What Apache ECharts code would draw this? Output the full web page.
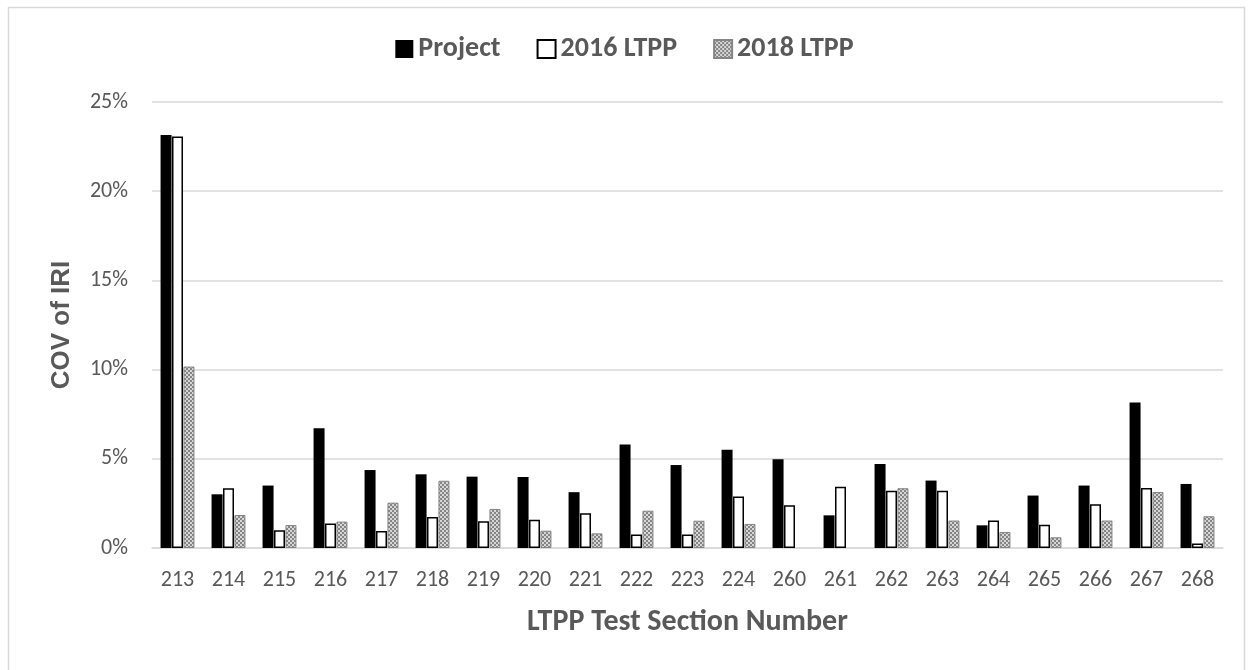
<!DOCTYPE html>
<html>
<head>
<meta charset="utf-8">
<script src="https://cdn.jsdelivr.net/npm/echarts@6/dist/echarts.min.js"></script>
<style>
  html, body { margin: 0; padding: 0; background: #fff; }
  #chart { width: 1249px; height: 670px; }
</style>
</head>
<body>
<div id="chart"></div>
<script>
// LTPP test sections and coefficient of variation of IRI (%)
const sections = ['213','214','215','216','217','218','219','220','221','222','223','224','260','261','262','263','264','265','266','267','268'];
const project  = [23.15, 3.01, 3.50, 6.71, 4.37, 4.13, 4.00, 3.98, 3.13, 5.80, 4.65, 5.51, 4.97, 1.83, 4.71, 3.78, 1.27, 2.94, 3.50, 8.15, 3.59];
const ltpp2016 = [23.07, 3.35, 1.00, 1.38, 0.95, 1.74, 1.50, 1.59, 1.95, 0.75, 0.75, 2.88, 2.40, 3.44, 3.21, 3.21, 1.54, 1.31, 2.45, 3.37, 0.25];
const ltpp2018 = [10.17, 1.85, 1.29, 1.48, 2.54, 3.77, 2.19, 0.97, 0.82, 2.09, 1.53, 1.35, 0, 0, 3.35, 1.54, 0.90, 0.60, 1.54, 3.14, 1.78];
const yTicks = [0, 5, 10, 15, 20, 25];

const FONT = 'Carlito, Calibri, Lato, "Open Sans", sans-serif';
const TEXT = '#595959';

// small checker tile used for the 2018 fill
function checker() {
  const c = document.createElement('canvas');
  c.width = 4; c.height = 4;
  const g = c.getContext('2d');
  g.fillStyle = '#858585'; g.fillRect(0, 0, 4, 4);
  g.fillStyle = '#d6d6d6';
  g.fillRect(0, 0, 2, 2);
  g.fillRect(2, 2, 2, 2);
  return c;
}
const checkFill = { image: checker(), repeat: 'repeat' };

const chart = echarts.init(document.getElementById('chart'), null, { renderer: 'canvas' });
chart.setOption({
  backgroundColor: '#fff',
  animation: false,
  graphic: [{
    type: 'rect', left: 6, top: 5,
    shape: { width: 1236, height: 680 },
    style: { fill: 'none', stroke: '#d9d9d9', lineWidth: 1.5 },
    silent: true
  }],
  legend: {
    top: 30, left: 'center',
    itemWidth: 18, itemHeight: 18, itemGap: 36,
    textStyle: { color: TEXT, fontFamily: FONT, fontWeight: 'bold', fontSize: 28, padding: [0, 0, 0, 0] },
    data: [
      { name: 'Project', icon: 'rect' },
      { name: '2016 LTPP', icon: 'rect' },
      { name: '2018 LTPP', icon: 'rect' }
    ]
  },
  grid: { left: 152, right: 26, top: 102, bottom: 122, containLabel: false },
  xAxis: {
    type: 'category',
    data: sections,
    name: 'LTPP Test Section Number',
    nameLocation: 'middle',
    nameGap: 59,
    nameTextStyle: { color: TEXT, fontFamily: FONT, fontWeight: 'bold', fontSize: 30 },
    axisLine: { lineStyle: { color: '#d9d9d9', width: 1.5 } },
    axisTick: { show: false },
    axisLabel: { color: TEXT, fontFamily: FONT, fontSize: 22, margin: 21 }
  },
  yAxis: {
    type: 'value',
    min: yTicks[0], max: yTicks[yTicks.length - 1], interval: 5,
    name: 'COV of IRI',
    nameLocation: 'middle',
    nameGap: 77,
    nameTextStyle: { color: TEXT, fontFamily: '"Liberation Sans", Arial, sans-serif', fontWeight: 'bold', fontSize: 26 },
    axisLine: { show: false },
    axisTick: { show: false },
    splitLine: { lineStyle: { color: '#d9d9d9', width: 1.5 } },
    axisLabel: { color: TEXT, fontFamily: FONT, fontSize: 22, margin: 24, formatter: v => v + '%' }
  },
  series: [
    {
      name: 'Project', type: 'bar', data: project,
      barWidth: 11, barGap: '4%',
      itemStyle: { color: '#000', borderColor: '#000', borderWidth: 0 }
    },
    {
      name: '2016 LTPP', type: 'bar', data: ltpp2016,
      barWidth: 11, barGap: '4%',
      itemStyle: { color: '#fff', borderColor: '#000', borderWidth: 1.5 }
    },
    {
      name: '2018 LTPP', type: 'bar',
      // zero-height bars get no outline
      data: ltpp2018.map(v => v === 0 ? { value: v, itemStyle: { borderWidth: 0 } } : v),
      barWidth: 11, barGap: '4%',
      itemStyle: { color: checkFill, borderColor: '#858585', borderWidth: 1 }
    }
  ]
});
</script>
</body>
</html>
